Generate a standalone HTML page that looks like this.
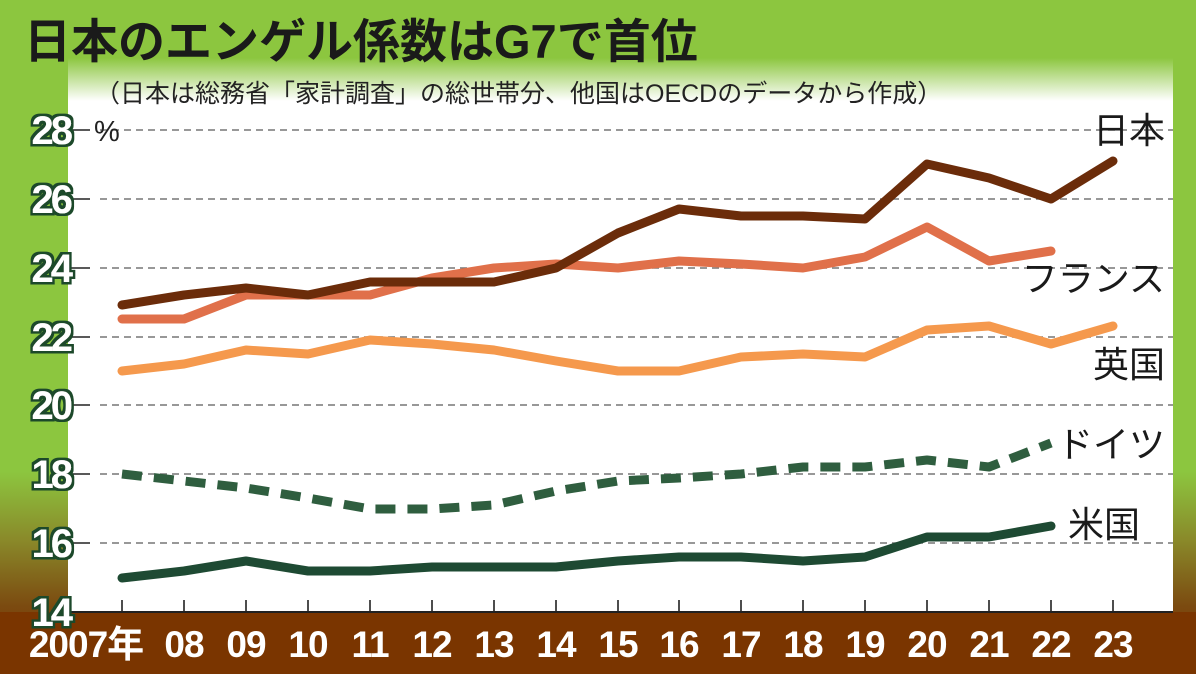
<!DOCTYPE html>
<html><head><meta charset="utf-8"><style>
html,body{margin:0;padding:0;}
body{width:1196px;height:674px;overflow:hidden;}
svg text{font-family:"Liberation Sans","Noto Sans CJK JP",sans-serif;}
</style></head><body>
<svg width="1196" height="674" viewBox="0 0 1196 674" xmlns="http://www.w3.org/2000/svg">
<defs>
<linearGradient id="bg" x1="0" y1="0" x2="0" y2="1">
<stop offset="0" stop-color="#8cc63f"/>
<stop offset="0.70" stop-color="#8cc63f"/>
<stop offset="0.80" stop-color="#8a8a2a"/>
<stop offset="0.90" stop-color="#7b4a10"/>
<stop offset="1" stop-color="#7a3500"/>
</linearGradient>
<linearGradient id="fade" x1="0" y1="0" x2="0" y2="1">
<stop offset="0" stop-color="#8cc63f" stop-opacity="1"/>
<stop offset="1" stop-color="#ffffff" stop-opacity="1"/>
</linearGradient>
<filter id="glow" x="-20%" y="-20%" width="140%" height="140%">
<feMorphology in="SourceAlpha" operator="dilate" radius="2.5" result="d"/>
<feFlood flood-color="#1f4a2a"/><feComposite in2="d" operator="in" result="s"/>
<feMerge><feMergeNode in="s"/><feMergeNode in="SourceGraphic"/></feMerge>
</filter>
</defs>
<rect width="1196" height="674" fill="url(#bg)"/>
<rect x="0" y="612" width="1196" height="62" fill="#7a3500"/>
<rect x="68" y="100" width="1105" height="512" fill="#fff"/>
<rect x="68" y="58" width="1105" height="43" fill="url(#fade)"/>
<text x="24" y="58" font-size="47" font-weight="bold" fill="#1a1a1a">日本のエンゲル係数はG7で首位</text>
<text x="95" y="102" font-size="25" fill="#222">（日本は総務省「家計調査」の総世帯分、他国はOECDのデータから作成）</text>
<g stroke="#777" stroke-width="1.6" stroke-dasharray="7,5">
<line x1="100" y1="130" x2="1173" y2="130"/>
<line x1="100" y1="199" x2="1173" y2="199"/>
<line x1="100" y1="268" x2="1173" y2="268"/>
<line x1="100" y1="337" x2="1173" y2="337"/>
<line x1="100" y1="405" x2="1173" y2="405"/>
<line x1="100" y1="474" x2="1173" y2="474"/>
<line x1="100" y1="543" x2="1173" y2="543"/>
</g>
<g stroke="#222" stroke-width="1.6">
<line x1="68" y1="130" x2="90" y2="130"/><line x1="68" y1="199" x2="90" y2="199"/>
<line x1="68" y1="268" x2="90" y2="268"/><line x1="68" y1="337" x2="90" y2="337"/>
<line x1="68" y1="405" x2="90" y2="405"/><line x1="68" y1="474" x2="90" y2="474"/>
<line x1="68" y1="543" x2="90" y2="543"/>
<line x1="68" y1="612" x2="1173" y2="612" stroke-width="2"/>
<path d="M122 600V612M184 600V612M246 600V612M308 600V612M370 600V612M432 600V612M494 600V612M556 600V612M618 600V612M679 600V612M741 600V612M803 600V612M865 600V612M927 600V612M989 600V612M1051 600V612M1113 600V612"/>
</g>
<text x="94" y="141" font-size="29" fill="#222">%</text>
<g font-size="40" font-weight="bold" fill="#fff" text-anchor="end" filter="url(#glow)" letter-spacing="-3">
<text x="70" y="144">28</text><text x="70" y="213">26</text><text x="70" y="282">24</text>
<text x="70" y="351">22</text><text x="70" y="419">20</text><text x="70" y="488">18</text>
<text x="70" y="557">16</text><text x="70" y="626">14</text>
</g>
<g font-size="37" font-weight="bold" fill="#fff" text-anchor="middle" letter-spacing="-1">
<text x="86" y="657">2007年</text><text x="184" y="657">08</text><text x="246" y="657">09</text>
<text x="308" y="657">10</text><text x="370" y="657">11</text><text x="432" y="657">12</text>
<text x="494" y="657">13</text><text x="556" y="657">14</text><text x="618" y="657">15</text>
<text x="679" y="657">16</text><text x="741" y="657">17</text><text x="803" y="657">18</text>
<text x="865" y="657">19</text><text x="927" y="657">20</text><text x="989" y="657">21</text>
<text x="1051" y="657">22</text><text x="1113" y="657">23</text>
</g>
<g fill="none" stroke-width="9" stroke-linejoin="round" stroke-linecap="round">
<polyline stroke="#1e4a33" points="122,578 184,571 246,561 308,571 370,571 432,567 494,567 556,567 618,561 679,557 741,557 803,561 865,557 927,537 989,537 1051,526"/>
<polyline stroke="#2f5e3f" stroke-dasharray="20,12" stroke-linecap="butt" points="122,474 184,481 246,488 308,498 370,509 432,509 494,505 556,491 618,481 679,478 741,474 803,467 865,467 927,460 989,467 1051,443"/>
<polyline stroke="#f5994d" points="122,371 184,364 246,350 308,354 370,340 432,344 494,350 556,361 618,371 679,371 741,357 803,354 865,357 927,330 989,326 1051,344 1113,326"/>
<polyline stroke="#e0704a" points="122,319 184,319 246,295 308,295 370,295 432,278 494,268 556,264 618,268 679,261 741,264 803,268 865,257 927,227 989,261 1051,251"/>
<polyline stroke="#6b2c0a" points="122,305 184,295 246,288 308,295 370,282 432,282 494,282 556,268 618,233 679,209 741,216 803,216 865,219 927,164 989,178 1051,199 1113,161"/>
</g>
<g font-size="36" fill="#1a1a1a" text-anchor="end">
<text x="1165" y="143">日本</text>
<text x="1165" y="291">フランス</text>
<text x="1165" y="377">英国</text>
<text x="1165" y="457">ドイツ</text>
<text x="1140" y="537">米国</text>
</g>
</svg>
</body></html>
